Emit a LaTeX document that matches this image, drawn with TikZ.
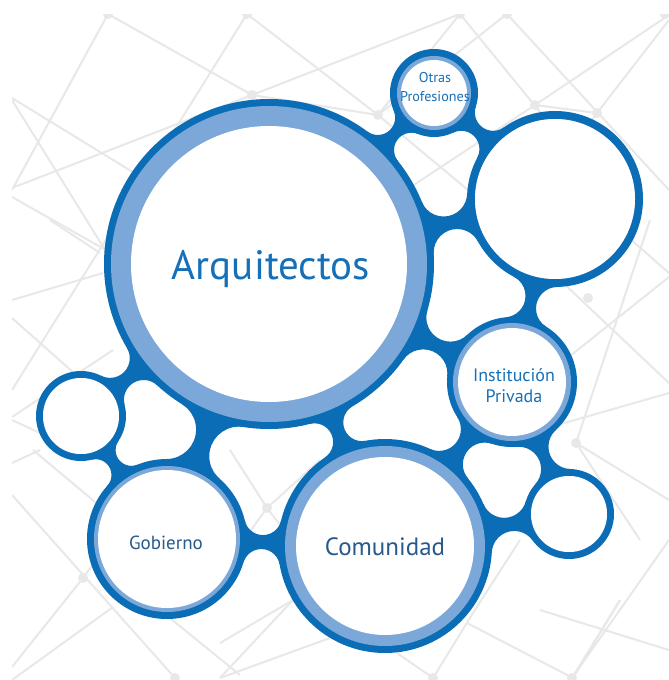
\documentclass[tikz,border=0pt]{standalone}
\usepackage{fontspec}
\setmainfont{PT Sans}
\newcount\bcnt
\definecolor{dkblue}{HTML}{0A6DB5}
\definecolor{ltblue}{HTML}{7CA7D9}
\definecolor{bgline}{HTML}{E8E8E8}
\definecolor{txtblue}{HTML}{1670B8}
\definecolor{txtdark}{HTML}{275A8C}
% bridge between circle (#1,#2) radius #3 and circle (#4,#5) radius #6, neck half width #7
\newcommand\bridge[7]{%
  \edef\bd{\fpeval{sqrt((#4-#1)^2+(#5-#2)^2)}}%
  \edef\slo{\fpeval{max(\bd-#3-#6,0)/2}}%
  \edef\shi{\fpeval{\slo+300}}%
  \bcnt=0
  \loop
    \edef\smid{\fpeval{(\slo+\shi)/2}}%
    \edef\hh{\fpeval{sqrt(max((#3+\smid)^2-((\bd^2+(#3+\smid)^2-(#6+\smid)^2)/(2*\bd))^2,0))-\smid}}%
    \ifnum\fpeval{\hh<#7}=1\relax \let\slo\smid \else \let\shi\smid \fi
    \advance\bcnt by 1
  \ifnum\bcnt<40 \repeat
  \edef\xx{\fpeval{(\bd^2+(#3+\shi)^2-(#6+\shi)^2)/(2*\bd)}}%
  \edef\hp{\fpeval{sqrt((#3+\shi)^2-\xx^2)}}%
  \edef\ux{\fpeval{(#4-#1)/\bd}}\edef\uy{\fpeval{(#5-#2)/\bd}}%
  \edef\cax{\fpeval{round(#1+\xx*\ux-\hp*\uy,4)}}\edef\cay{\fpeval{round(#2+\xx*\uy+\hp*\ux,4)}}%
  \edef\cbx{\fpeval{round(#1+\xx*\ux+\hp*\uy,4)}}\edef\cby{\fpeval{round(#2+\xx*\uy-\hp*\ux,4)}}%
  \edef\srad{\fpeval{round(\shi,4)}}%
  % enlarged polygon (scaled 1.5 about the centroid)
  \edef\mx{\fpeval{(#1+#4+\cax+\cbx)/4}}\edef\my{\fpeval{(#2+#5+\cay+\cby)/4}}%
  \edef\eax{\fpeval{round(\mx+1.5*(#1-\mx),4)}}\edef\eay{\fpeval{round(\my+1.5*(#2-\my),4)}}%
  \edef\ebx{\fpeval{round(\mx+1.5*(#4-\mx),4)}}\edef\eby{\fpeval{round(\my+1.5*(#5-\my),4)}}%
  \edef\ecax{\fpeval{round(\mx+1.5*(\cax-\mx),4)}}\edef\ecay{\fpeval{round(\my+1.5*(\cay-\my),4)}}%
  \edef\ecbx{\fpeval{round(\mx+1.5*(\cbx-\mx),4)}}\edef\ecby{\fpeval{round(\my+1.5*(\cby-\my),4)}}%
  \begin{scope}
    \clip (#1,#2)--(\cax,\cay)--(#4,#5)--(\cbx,\cby)--cycle;
    \fill[dkblue,even odd rule] (\eax,\eay)--(\ecax,\ecay)--(\ebx,\eby)--(\ecbx,\ecby)--cycle
      (\cax,\cay) circle[radius=\srad pt] (\cbx,\cby) circle[radius=\srad pt];
  \end{scope}}
% ring: center, outer radius, dark width, light width
\newcommand\ringc[5]{%
  \fill[dkblue] (#1,#2) circle[radius=#3pt];
  \fill[ltblue] (#1,#2) circle[radius=#3pt-#4pt];
  \fill[white] (#1,#2) circle[radius=#3pt-#4pt-#5pt];}
\tikzset{
  bgl/.style={draw=bgline,line width=2pt},
  bgdot/.style={fill=bgline},
  lbl/.style={inner sep=0pt,anchor=base,align=center}
}
\begin{document}
\begin{tikzpicture}[x=1pt,y=-1pt]
\useasboundingbox (0,0) rectangle (669,680);
\fill[white] (0,0) rectangle (669,680);
% background network
\begin{scope}
\clip (12,14) rectangle (669,680);
\foreach \a/\b in {
  {108,14}/{252,95}, {108,14}/{12,190}, {12,98}/{260,250}, {12,188}/{252,95},
  {252,95}/{460,14}, {12,100}/{130,290}, {12,197}/{120,258}, {247,14}/{12,390},
  {247,14}/{378,115}, {378,115}/{460,14}, {378,115}/{507,14}, {378,115}/{480,200},
  {252,95}/{378,115}, {460,14}/{620,210}, {507,14}/{669,190}, {535,105}/{669,15},
  {597,113}/{669,20}, {535,105}/{597,113}, {535,105}/{300,260}, {597,113}/{540,190},
  {560,280}/{669,383}, {650,220}/{576,443}, {669,277}/{540,380}, {669,393}/{540,430},
  {576,443}/{669,500}, {620,230}/{669,273}, {576,443}/{640,540},
  {572,678}/{669,540}, {540,610}/{669,650}, {620,600}/{572,678},
  {50,220}/{100,253}, {12,300}/{103,273}, {12,318}/{110,405},
  {12,417}/{113,350}, {12,420}/{40,433},
  {12,495}/{175,678}, {12,463}/{40,450}, {33,450}/{113,517}, {83,578}/{140,500},
  {83,578}/{12,667}, {12,680}/{113,607}, {160,610}/{240,675},
  {267,508}/{200,600}, {267,508}/{330,590}, {267,508}/{230,450}, {267,508}/{320,460},
  {220,643}/{293,600}, {220,678}/{293,600}, {220,678}/{330,638},
  {433,678}/{397,653}, {433,678}/{473,613}, {467,623}/{573,678}, {573,678}/{620,600},
  {473,613}/{520,540}}
  {\draw[bgl] (\a) -- (\b);}
\foreach \p in {{108,14},{247,14},{460,14},{507,14},{665,14},{252,95},{378,115},
  {535,105},{597,113},{588,298},{576,443},{267,508},{83,578},{175,678},{433,678},{572,678}}
  {\fill[bgdot] (\p) circle[radius=5pt];}
\end{scope}
% centres
\coordinate (arq) at (269,264);
\coordinate (otr) at (434,93);
\coordinate (tr)  at (555,199);
\coordinate (ins) at (512,382);
\coordinate (sl)  at (81,416);
\coordinate (gob) at (167,539);
\coordinate (com) at (385,546);
\coordinate (sr)  at (569,514);
% bridges
\bridge{269}{264}{165}{434}{93}{44}{6}
\bridge{434}{93}{44}{555}{199}{88}{6}
\bridge{269}{264}{165}{555}{199}{88}{7}
\bridge{555}{199}{88}{512}{382}{65}{6}
\bridge{269}{264}{165}{512}{382}{65}{7}
\bridge{269}{264}{165}{81}{416}{45}{7}
\bridge{269}{264}{165}{167}{539}{80}{9}
\bridge{81}{416}{45}{167}{539}{80}{6}
\bridge{167}{539}{80}{385}{546}{107}{7}
\bridge{269}{264}{165}{385}{546}{107}{7}
\bridge{385}{546}{107}{512}{382}{65}{7}
\bridge{512}{382}{65}{569}{514}{45}{6}
\bridge{385}{546}{107}{569}{514}{45}{7}
% circles
\ringc{269}{264}{165}{7}{20}
\ringc{434}{93}{44}{7}{4}
\ringc{555}{199}{88}{8}{0}
\ringc{512}{382}{65}{6}{5}
\ringc{81}{416}{45}{7}{0}
\ringc{167}{539}{80}{7}{4}
\ringc{385}{546}{107}{7}{11}
\ringc{569}{514}{45}{7}{0}
% labels
\node[lbl,text=txtblue,font=\fontsize{41}{43}\selectfont] (larq) at (271,279) {Arquitectos};
\node[lbl,text=txtblue,font=\fontsize{14.2}{19}\selectfont] (lotr) at (435,101) {Otras\\Profesiones};
\node[lbl,text=txtblue,font=\fontsize{18}{21}\selectfont] (lins) at (514,402) {Institución\\Privada};
\node[lbl,text=txtdark,font=\fontsize{19}{20}\selectfont] (lgob) at (166,549) {Gobierno};
\node[lbl,text=txtdark,font=\fontsize{25}{26}\selectfont] (lcom) at (385,555) {Comunidad};
\end{tikzpicture}
\end{document}
